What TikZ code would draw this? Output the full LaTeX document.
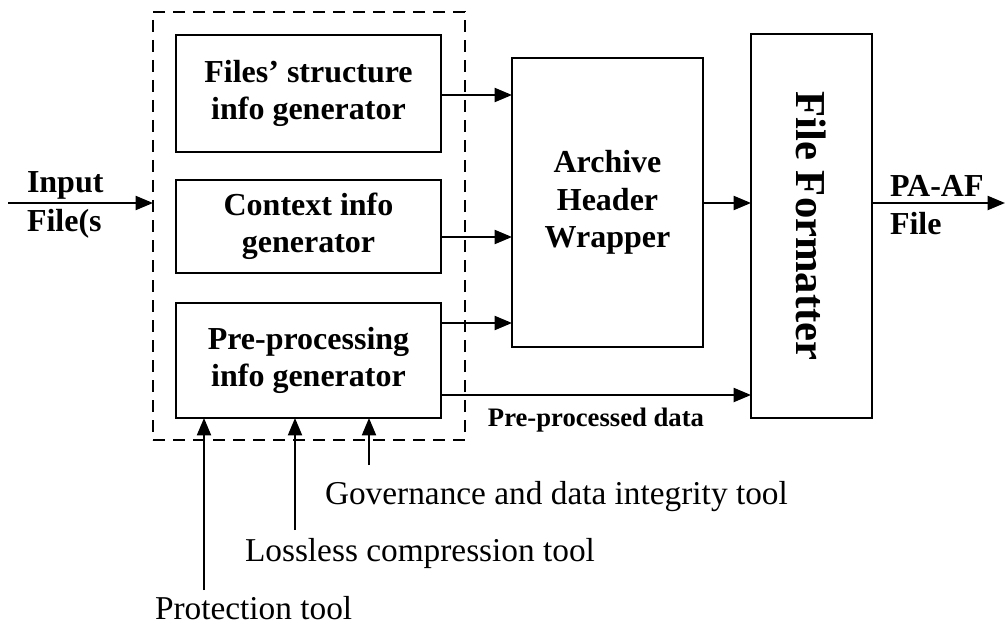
\documentclass[tikz,border=0pt]{standalone}
\usepackage{fontspec}
\setmainfont{Liberation Serif}
\usetikzlibrary{arrows.meta, positioning, calc}

\begin{document}
\begin{tikzpicture}[x=0.75pt, y=-0.75pt, font=\fontsize{25}{29}\selectfont]
\tikzset{every node/.style={inner sep=0mm, outer sep=0mm}}

\tikzstyle{block}=[draw=black, line width=1.5pt, align=center, font=\bfseries\fontsize{24}{28}\selectfont]
\tikzstyle{group}=[draw=black, line width=1.3pt, dash pattern=on 9pt off 6pt]
\tikzstyle{label}=[align=left, font=\bfseries\fontsize{24}{29}\selectfont]
\tikzstyle{tool}=[anchor=base west]
\tikzstyle{post}=[-{Triangle[length=13pt, width=10.5pt]}, line width=1.5pt]

\useasboundingbox (0,0) rectangle (1006,631);

% generators
\node[group, minimum width=312*0.75pt, minimum height=428*0.75pt] (gen) at (309,226) {};
\node[block, minimum width=265*0.75pt, minimum height=117*0.75pt] (struct) at (308.5,93.5) {Files' structure\\info generator};
\node[block, minimum width=265*0.75pt, minimum height=93*0.75pt] (context) at (308.5,226.5) {Context info\\generator};
\node[block, minimum width=265*0.75pt, minimum height=115*0.75pt] (pre) at (308.5,360.5) {Pre-processing\\info generator};

% wrapper and formatter
\node[block, minimum width=191*0.75pt, minimum height=289*0.75pt] (wrap) at (607.5,202.5) {Archive\\Header\\Wrapper};
\node[block, minimum width=121*0.75pt, minimum height=384*0.75pt] (form) at (811.5,226) {};
\node[font=\bfseries\fontsize{32}{34}\selectfont, rotate=-90] (form text) at (form.center) {File Formatter};

% input and output
\coordinate (in) at (8,203);
\coordinate (out) at (1005,203);
\node[label, anchor=west] (in label) at (27,205) {Input\\File(s};
\node[label, anchor=west] (out label) at (890,205) {PA-AF\\File};

\draw[post] (in) -- (gen.west |- in);
\draw[post] (struct.east |- 0,95) -- (wrap.west |- 0,95);
\draw[post] (context.east |- 0,237) -- (wrap.west |- 0,237);
\draw[post] (pre.east |- 0,323) -- (wrap.west |- 0,323);
\draw[post] (wrap.east |- out) -- (form.west |- out);
\draw[post] (form.east |- out) -- (out);
\draw[post] (pre.east |- 0,395) -- (form.west |- 0,395) node[pos=0.5, below=10pt, font=\bfseries\fontsize{20}{22}\selectfont] (pre data) {Pre-processed data};

% tools
\coordinate (protect) at (204,590);
\coordinate (lossless) at (295,530);
\coordinate (govern) at (369,465);
\draw[post] (protect) -- (pre.south -| protect);
\draw[post] (lossless) -- (pre.south -| lossless);
\draw[post] (govern) -- (pre.south -| govern);

\node[tool] (govern label) at (325,504) {Governance and data integrity tool};
\node[tool] (lossless label) at (245,561) {Lossless compression tool};
\node[tool] (protect label) at (155,619) {Protection tool};

\end{tikzpicture}
\end{document}
